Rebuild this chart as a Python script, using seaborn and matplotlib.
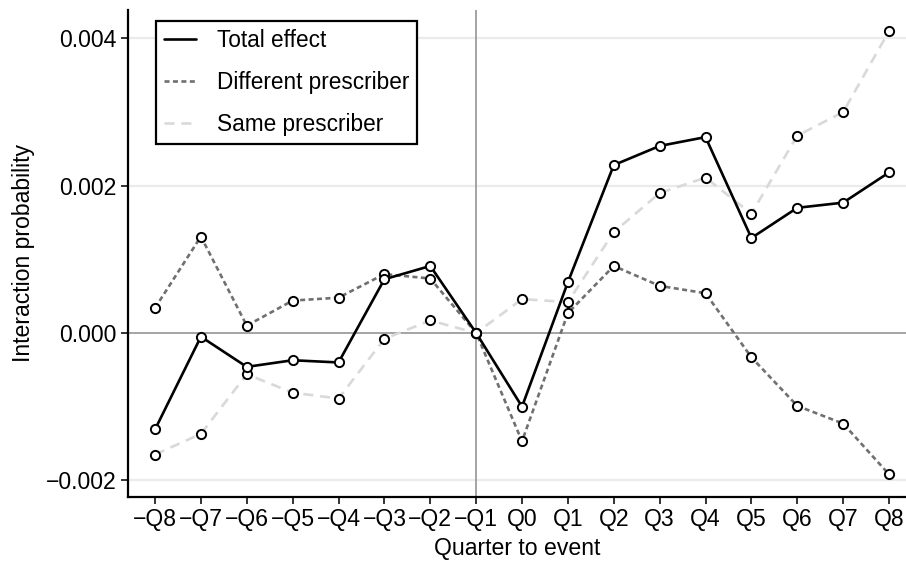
import matplotlib
matplotlib.use("Agg")
import matplotlib.pyplot as plt
from matplotlib import font_manager
import seaborn as sns
import pandas as pd

# Quarters relative to the event
quarters = ["\u2212Q8", "\u2212Q7", "\u2212Q6", "\u2212Q5", "\u2212Q4", "\u2212Q3", "\u2212Q2", "\u2212Q1",
            "Q0", "Q1", "Q2", "Q3", "Q4", "Q5", "Q6", "Q7", "Q8"]

total_effect = [-0.00131, -0.00005, -0.00046, -0.00037, -0.00040, 0.00073, 0.00091, 0.0,
                -0.00100, 0.00069, 0.00228, 0.00254, 0.00266, 0.00129, 0.00170, 0.00177, 0.00218]
different_prescriber = [0.00034, 0.00131, 0.00010, 0.00044, 0.00048, 0.00080, 0.00074, 0.0,
                        -0.00147, 0.00027, 0.00091, 0.00064, 0.00054, -0.00033, -0.00099, -0.00123, -0.00192]
same_prescriber = [-0.00165, -0.00137, -0.00056, -0.00081, -0.00089, -0.00008, 0.00017, 0.0,
                   0.00046, 0.00042, 0.00137, 0.00190, 0.00211, 0.00162, 0.00268, 0.00300, 0.00410]

y_ticks = [-0.002, 0.000, 0.002, 0.004]
y_tick_labels = ["\u22120.002", "0.000", "0.002", "0.004"]

series = {
    "Total effect": total_effect,
    "Different prescriber": different_prescriber,
    "Same prescriber": same_prescriber,
}
styles = {
    "Total effect": dict(color="black", dashes=()),
    "Different prescriber": dict(color="#707070", dashes=(1.9, 1.3)),
    "Same prescriber": dict(color="#d9d9d9", dashes=(3.8, 2.6)),
}

sns.set_theme(style="white")

# Pick the regular-width Liberation Sans face explicitly
font_name = "Liberation Sans"
for f in font_manager.fontManager.ttflist:
    if f.name == "Liberation Sans" and "Narrow" not in f.fname and f.style == "normal" and f.weight in (400, "normal", "regular"):
        font_manager.fontManager.addfont(f.fname)
        font_name = font_manager.FontProperties(fname=f.fname).get_name()
        break

plt.rcParams["font.family"] = [font_name, "DejaVu Sans"]
plt.rcParams["axes.unicode_minus"] = True
plt.rcParams["text.color"] = "black"
plt.rcParams["axes.labelcolor"] = "black"

FS = 16.6
LEG_FS = 16.3

fig = plt.figure(figsize=(9.06, 5.62), dpi=100)
ax = fig.add_axes([128 / 906, 65 / 562, 1 - 128 / 906, (497 - 10) / 562])

x_idx = list(range(len(quarters)))

# Reference lines and horizontal grid
for yv in y_ticks:
    if yv != 0:
        ax.axhline(yv, color="#ebebeb", lw=1.6, zorder=0)
ax.axhline(0, color="#8c8c8c", lw=1.1, zorder=1)
ax.axvline(quarters.index("\u2212Q1"), color="#8c8c8c", lw=1.1, zorder=1)

order = ["Same prescriber", "Different prescriber", "Total effect"]
for name in order:
    df = pd.DataFrame({"x": x_idx, "y": series[name]})
    st = styles[name]
    sns.lineplot(data=df, x="x", y="y", ax=ax, color=st["color"], lw=1.9,
                 dashes=False, legend=False, zorder=3)
    line = ax.lines[-1]
    if st["dashes"]:
        line.set_dashes(st["dashes"])
    line.set_label(name)

for name in order:
    df = pd.DataFrame({"x": x_idx, "y": series[name]})
    sns.scatterplot(data=df, x="x", y="y", ax=ax, s=44, facecolor="white",
                    edgecolor="black", linewidth=1.4, legend=False, zorder=4)

ax.set_xlim(-0.589, 16.37)
ax.set_ylim(-0.002227, 0.004386)
ax.set_xticks(x_idx)
ax.set_xticklabels(quarters)
ax.set_yticks(y_ticks)
ax.set_yticklabels(y_tick_labels)

for side in ["top", "right"]:
    ax.spines[side].set_visible(False)
for side in ["left", "bottom"]:
    ax.spines[side].set_color("black")
    ax.spines[side].set_linewidth(1.6)

ax.tick_params(axis="both", which="major", length=5, width=1.4, color="#333333",
               labelsize=FS, labelcolor="black", pad=3, direction="out",
               bottom=True, left=True)
ax.set_xlabel("Quarter to event", fontsize=FS, labelpad=4)
ax.set_ylabel("Interaction probability", fontsize=FS, labelpad=8)

line_map = {l.get_label(): l for l in ax.lines}
names = ["Total effect", "Different prescriber", "Same prescriber"]
leg = ax.legend(handles=[line_map[n] for n in names], labels=names,
                loc="upper left", bbox_to_anchor=(156 / 906, 1 - 21 / 562),
                bbox_transform=fig.transFigure, fontsize=LEG_FS, frameon=True,
                framealpha=1, fancybox=False, handlelength=1.4, handletextpad=0.92,
                labelspacing=0.84, borderpad=0.36, borderaxespad=0)
leg.get_frame().set_edgecolor("black")
leg.get_frame().set_linewidth(1.6)
leg.set_zorder(10)

fig.savefig("out.png", dpi=100)
